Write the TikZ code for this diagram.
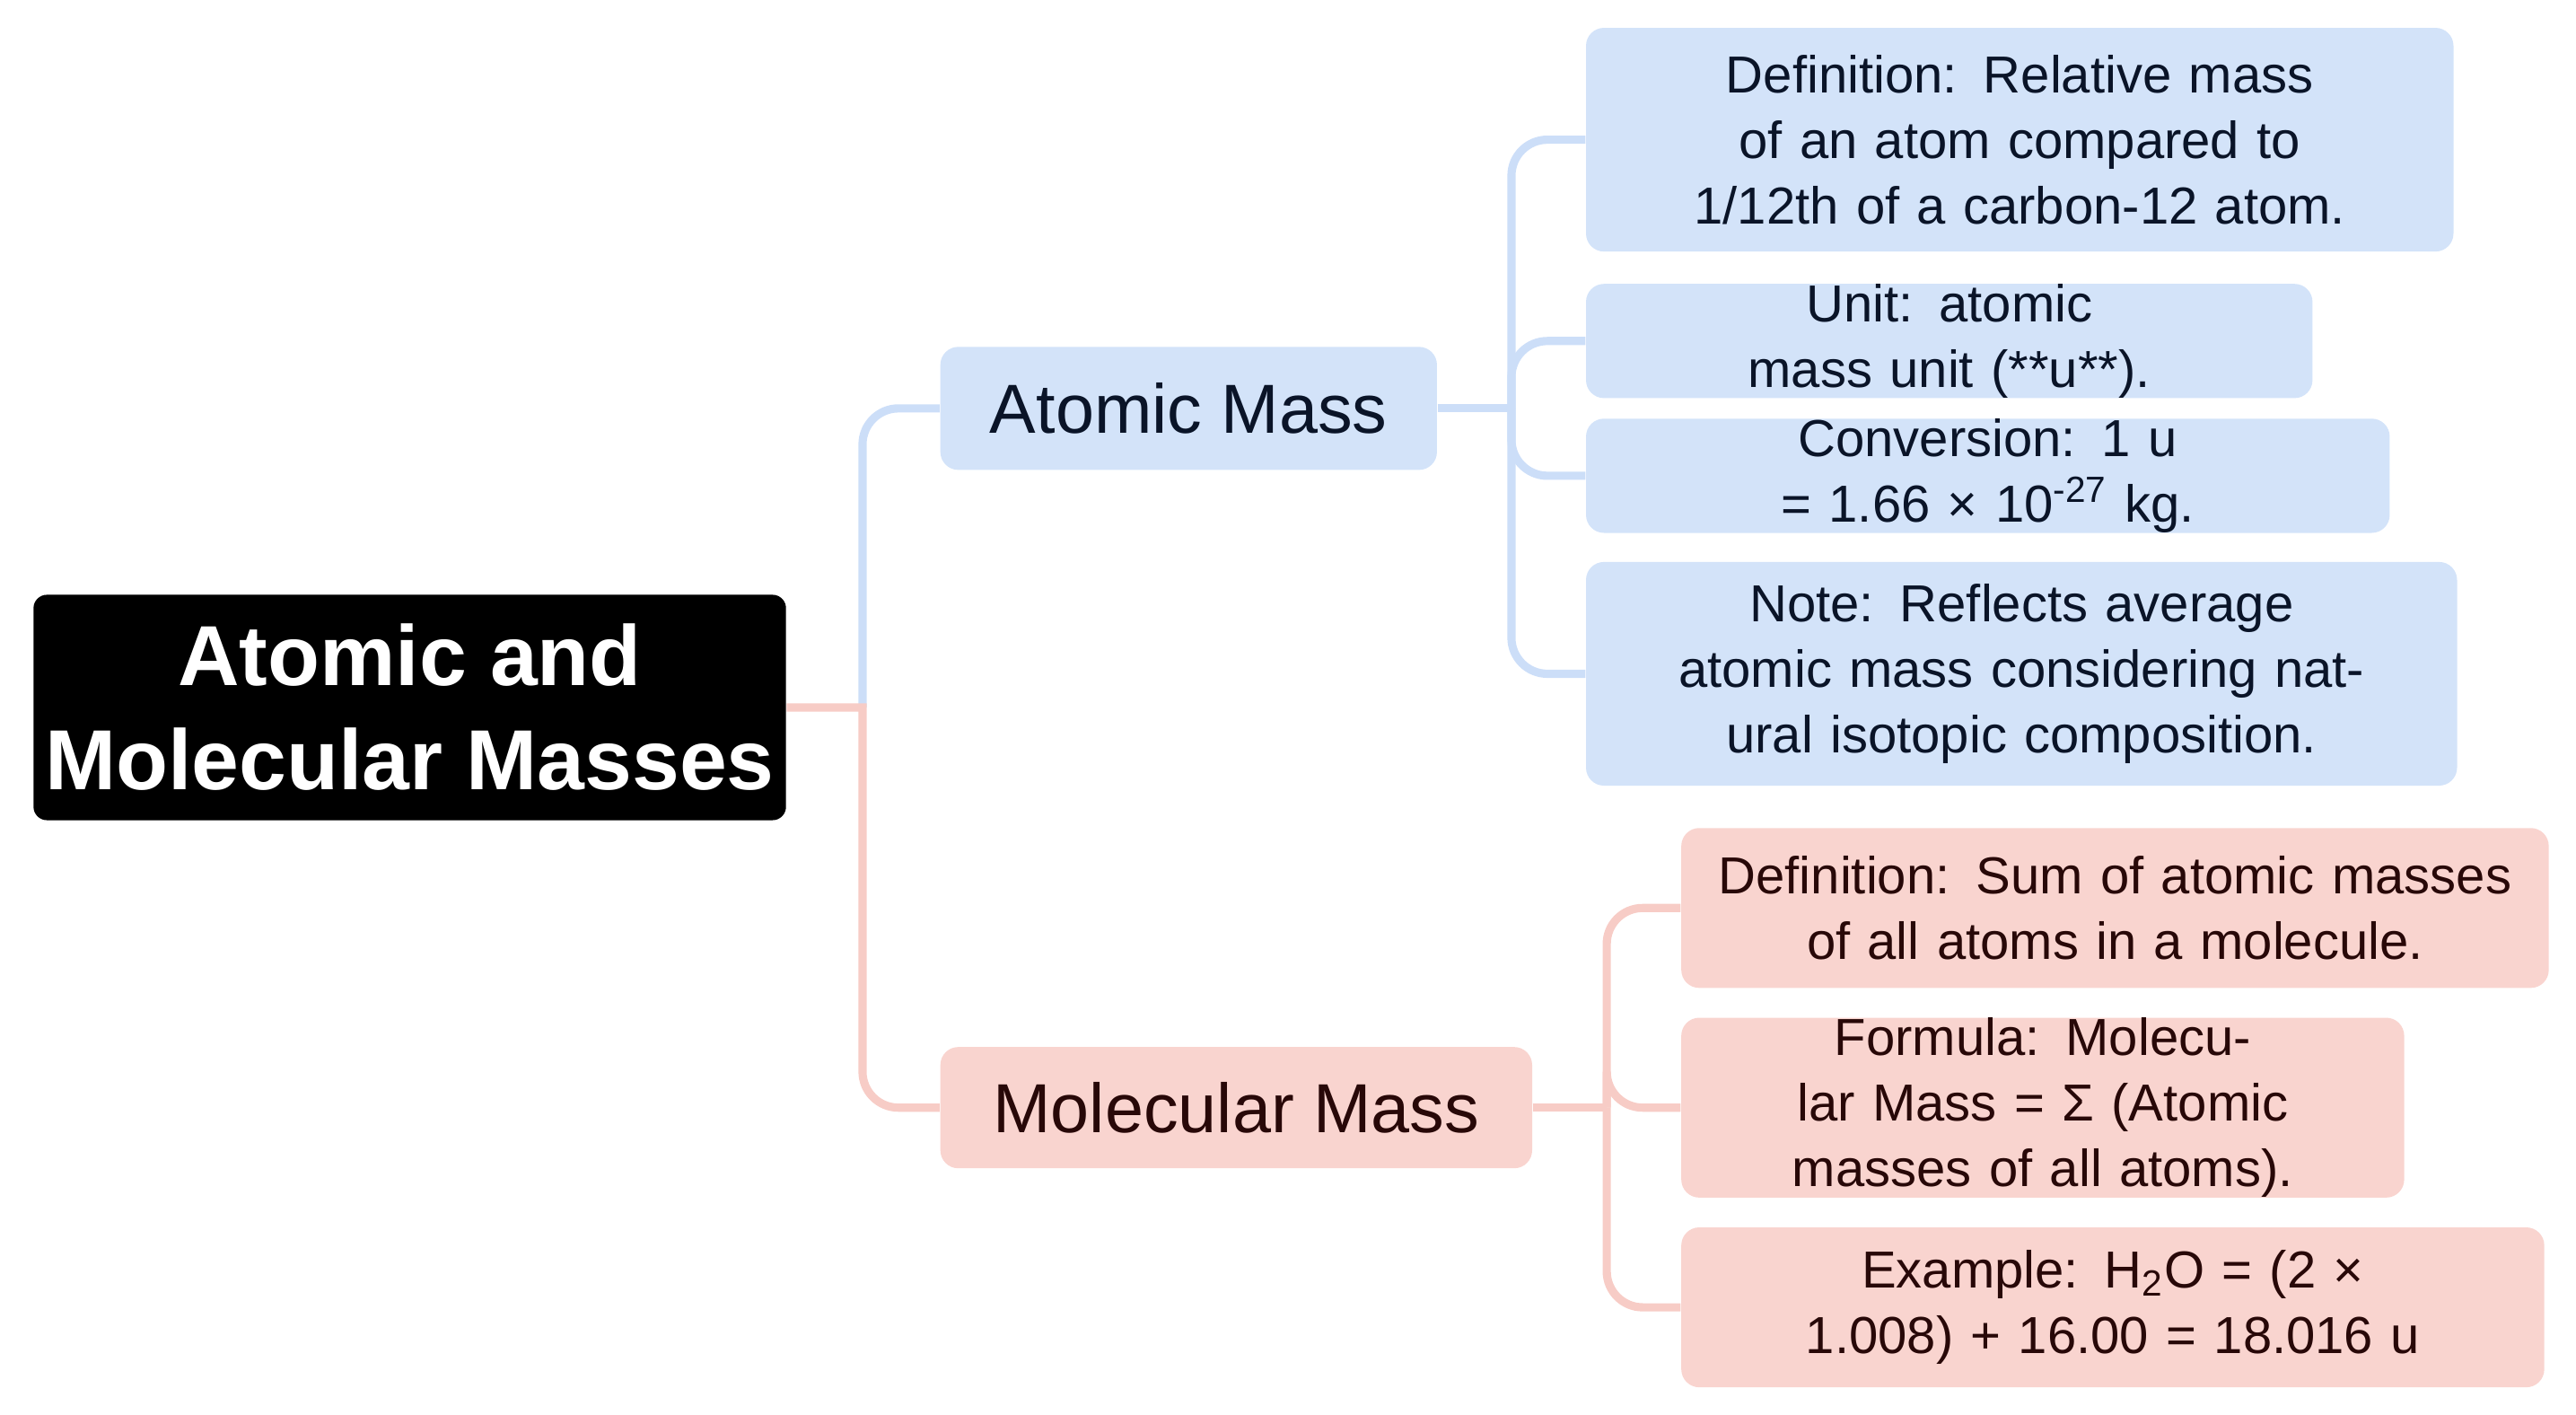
\documentclass[tikz,border=0pt]{standalone}
\usepackage{fontspec}
\setmainfont{Liberation Sans}
\usetikzlibrary{positioning}
\definecolor{amfill}{HTML}{D3E3F9}
\definecolor{amline}{HTML}{CCDEF8}
\definecolor{mmfill}{HTML}{F9D4CF}
\definecolor{mmline}{HTML}{F7CCC6}
\tikzset{%
  % root box
  rootbox/.style={rectangle, rounded corners=0.15cm, fill=black, text=white, align=center,
    font=\fontsize{27}{33}\selectfont\bfseries, inner sep=0pt},
  % branch boxes
  branchbox/.style={rectangle, rounded corners=0.2cm, inner sep=0pt, font=\fontsize{22}{26}\selectfont},
  % leaf boxes
  leafbox/.style={rectangle, rounded corners=0.2cm, inner sep=0pt, align=center,
    font=\fontsize{16.5}{20.8}\selectfont},
  amstyle/.style={fill=amfill, text={rgb,255:red,10;green,20;blue,40}},
  mmstyle/.style={fill=mmfill, text={rgb,255:red,40;green,8;blue,8}},
  link/.style={line width=2.6pt},
}
\begin{document}
\begin{tikzpicture}[x=0.0183cm, y=-0.0183cm]
  \useasboundingbox (0,0) rectangle (1568,861);
  % nodes
  \node[rootbox, anchor=west, minimum width=8.38cm, minimum height=2.51cm] (root) at (20,430.5) {Atomic and\\Molecular Masses};
  \node[branchbox, amstyle, anchor=west, minimum width=5.53cm, minimum height=1.37cm] (am) at (572,248.5) {Atomic Mass};
  \node[branchbox, mmstyle, anchor=west, minimum width=6.59cm, minimum height=1.35cm] (mm) at (572,674) {Molecular Mass};

  \node[leafbox, amstyle, anchor=west, minimum width=9.66cm, minimum height=2.49cm, text width=9.2cm] (amdef) at (965,85)
    {Definition: Relative mass of an atom compared to 1/12th of a carbon-12 atom.};
  \node[leafbox, amstyle, anchor=west, minimum width=8.09cm, minimum height=1.04cm, text width=7.7cm] (amunit) at (965,207.5)
    {Unit: atomic mass unit (**u**).};
  \node[leafbox, amstyle, anchor=west, minimum width=8.95cm, minimum height=1.04cm, text width=8.6cm] (amconv) at (965,289.5)
    {Conversion: 1 u = 1.66 × 10\textsuperscript{-27} kg.};
  \node[leafbox, amstyle, anchor=west, minimum width=9.70cm, minimum height=2.49cm, text width=9.3cm] (amnote) at (965,410)
    {Note: Reflects average atomic mass considering natural isotopic composition.};

  \node[leafbox, mmstyle, anchor=west, minimum width=9.66cm, minimum height=1.78cm, text width=9.3cm] (mmdef) at (1023,552.5)
    {Definition: Sum of atomic masses of all atoms in a molecule.};
  \node[leafbox, mmstyle, anchor=west, minimum width=8.05cm, minimum height=1.76cm, text width=7.7cm] (mmform) at (1023,674)
    {Formula: Molecular Mass = Σ (Atomic masses of all atoms).};
  \node[leafbox, mmstyle, anchor=west, minimum width=9.61cm, minimum height=1.78cm, text width=9.3cm] (mmex) at (1023,795.5)
    {Example: H\textsubscript{2}O = (2 × 1.008) + 16.00 = 18.016 u};

  % junctions
  \coordinate (rj) at (525,430.5);
  \coordinate (aj) at (920,248.5);
  \coordinate (mj) at (978,674);

  % connectors
  \begin{scope}[on background layer/.style={}]
  \draw[link, amline] (rj) [rounded corners=0.4cm] |- (am.west);
  \draw[link, mmline] (root.east) -- (rj) [rounded corners=0.4cm] |- (mm.west);
  \draw[link, amline] (am.east) -- (aj);
  \foreach \leaf in {amdef, amunit, amconv, amnote}
    \draw[link, amline, rounded corners=0.4cm] (aj) |- (\leaf.west);
  \draw[link, mmline] (mm.east) -- (mj);
  \foreach \leaf in {mmdef, mmform, mmex}
    \draw[link, mmline, rounded corners=0.4cm] (mj) |- (\leaf.west);
  \end{scope}
\end{tikzpicture}
\end{document}
